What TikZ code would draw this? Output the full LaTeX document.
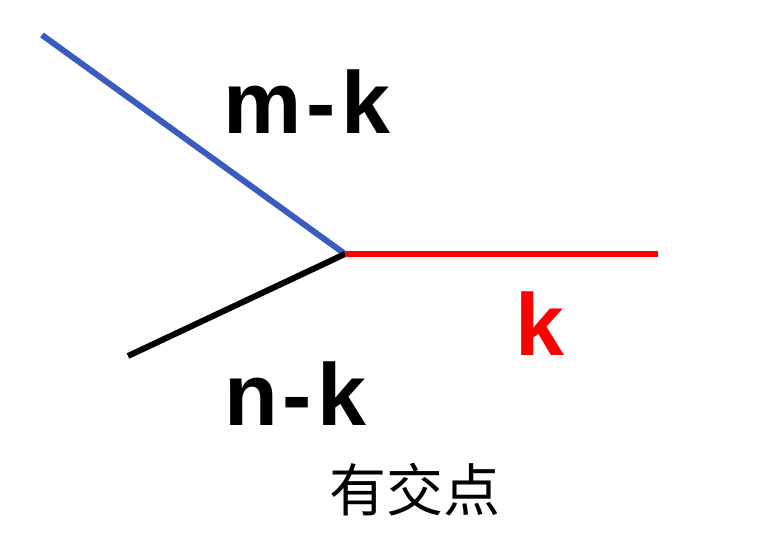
\documentclass[tikz,border=0pt]{standalone}
\usepackage{fontspec}
\setmainfont{Liberation Sans}
\newfontfamily\cjk{Noto Sans CJK SC}
\definecolor{lineblue}{RGB}{58,92,190}
\definecolor{linered}{RGB}{255,0,0}

\begin{document}
\begin{tikzpicture}[x=1pt,y=-1pt,line width=6pt,
  lbl/.style={anchor=base,inner sep=0pt,font=\fontsize{88}{88}\selectfont\bfseries}]

\useasboundingbox (0,0) rectangle (766,542);

% Ends of the lines
\coordinate (meet) at (345,254);
\coordinate (mend) at (42,35);
\coordinate (nend) at (128,356);
\coordinate (kend) at (658,254);

% Lines
\draw [lineblue] (mend) -- (meet);
\draw [black] (nend) -- (meet);
\draw [linered] (meet) -- (kend);

% Labels
\node [lbl] (mk) at (307,133) {m\kern5pt-\kern5pt k};
\node [lbl] (nk) at (295,425) {n\kern5pt-\kern5pt k};
\node [lbl,text=linered] (k) at (540,355) {k};
\node [anchor=base,inner sep=0pt,font=\cjk\fontsize{57}{57}\selectfont] (cross) at (415,511) {有交点};

\end{tikzpicture}
\end{document}
